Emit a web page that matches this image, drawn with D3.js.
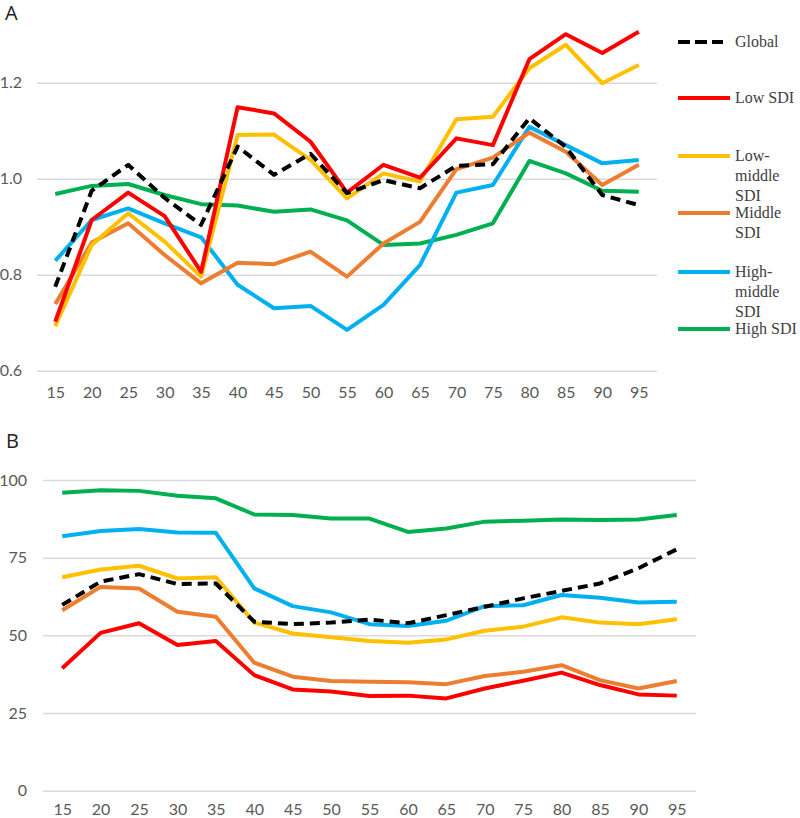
<!DOCTYPE html>
<html><head><meta charset="utf-8">
<script src="https://cdn.jsdelivr.net/npm/d3@7"></script>
<style>body{margin:0;background:#fff}svg{display:block}</style>
</head><body>
<svg id="c" width="800" height="818"></svg>
<script>
const ages = ["15","20","25","30","35","40","45","50","55","60","65","70","75","80","85","90","95"];
const seriesNames = ["Global","Low SDI","Low-middle SDI","Middle SDI","High-middle SDI","High SDI"];
const legendLines = [["Global"],["Low SDI"],["Low-","middle","SDI"],["Middle","SDI"],["High-","middle","SDI"],["High SDI"]];
const ticksA = [0.6,0.8,1.0,1.2];
const ticksB = [0,25,50,75,100];

// Panel A values
const globalA     = [0.775,0.975,1.029,0.960,0.904,1.067,1.008,1.052,0.970,0.997,0.980,1.027,1.030,1.126,1.066,0.966,0.945];
const lowA        = [0.702,0.914,0.971,0.922,0.806,1.149,1.136,1.077,0.971,1.029,1.002,1.084,1.070,1.249,1.301,1.262,1.306];
const lowMiddleA  = [0.693,0.862,0.928,0.869,0.796,1.091,1.092,1.039,0.959,1.011,0.994,1.124,1.129,1.230,1.279,1.199,1.237];
const middleA     = [0.739,0.867,0.907,0.841,0.782,0.825,0.822,0.848,0.796,0.865,0.910,1.020,1.044,1.096,1.056,0.987,1.029];
const highMiddleA = [0.829,0.914,0.938,0.907,0.878,0.779,0.730,0.735,0.685,0.737,0.820,0.971,0.987,1.108,1.070,1.032,1.039];
const highA       = [0.968,0.985,0.989,0.966,0.947,0.944,0.931,0.936,0.913,0.862,0.865,0.883,0.907,1.037,1.011,0.975,0.973];

// Panel B values
const globalB     = [59.8,67.3,69.7,66.5,66.7,54.4,53.6,54.1,55.1,53.9,56.5,59.2,61.9,64.3,66.7,71.6,77.7];
const lowB        = [39.4,50.8,53.9,46.9,48.2,37.2,32.6,31.9,30.5,30.6,29.7,32.9,35.4,38.0,34.0,31.0,30.6];
const lowMiddleB  = [68.7,71.2,72.4,68.3,68.7,54.1,50.6,49.4,48.2,47.6,48.7,51.5,52.8,55.8,54.1,53.6,55.2];
const middleB     = [58.1,65.6,65.1,57.6,56.0,41.2,36.7,35.3,35.1,34.9,34.3,36.9,38.3,40.4,35.6,32.9,35.3];
const highMiddleB = [81.9,83.6,84.2,83.1,83.0,65.1,59.4,57.4,53.6,53.0,54.7,59.4,59.7,63.0,62.1,60.6,60.8];
const highB       = [95.9,96.7,96.5,94.9,94.1,88.9,88.7,87.6,87.6,83.3,84.4,86.6,86.9,87.3,87.1,87.3,88.7];

const colors = ["#000000","#FF0000","#FFC000","#ED7D31","#00B0F0","#00B050"];
const dataA = [globalA,lowA,lowMiddleA,middleA,highMiddleA,highA];
const dataB = [globalB,lowB,lowMiddleB,middleB,highMiddleB,highB];

const svg = d3.select("#c");
const tickFont = "Lato, 'Open Sans', sans-serif";

function panel(data, xr, yDomain, yRange, ticks, fmt, ypad, xpad) {
  const x = d3.scalePoint().domain(ages).range(xr).padding(0.5);
  const y = d3.scaleLinear().domain(yDomain).range(yRange);
  const g = svg.append("g");
  const ya = g.append("g").attr("transform", `translate(${xr[0]},0)`)
    .call(d3.axisLeft(y).tickValues(ticks).tickFormat(fmt).tickSize(-(xr[1]-xr[0])).tickPadding(ypad));
  ya.select(".domain").remove();
  ya.selectAll("line").attr("stroke","#D9D9D9").attr("stroke-width",1.5);
  ya.selectAll("text").attr("fill","#595959").style("font-family",tickFont).style("font-size","16px");
  const xa = g.append("g").attr("transform", `translate(0,${y(yDomain[0])})`)
    .call(d3.axisBottom(x).tickSize(0).tickPadding(xpad));
  xa.select(".domain").remove();
  xa.selectAll("text").attr("fill","#595959").style("font-family",tickFont).style("font-size","16px");
  const line = d3.line().x((d,i)=>x(ages[i])).y(d=>y(d));
  const order = [5,4,3,2,1,0];
  order.forEach(k => {
    g.append("path").datum(data[k]).attr("d", line).attr("fill","none")
      .attr("stroke", colors[k]).attr("stroke-width", 4).attr("stroke-linejoin","round")
      .attr("stroke-dasharray", k===0 ? "10,6" : null);
  });
}

panel(dataA, [37,657], [0.6,1.2], [370.7,82.7], ticksA, d3.format(".1f"), 15, 15.5);
panel(dataB, [43,696], [0,100], [790.7,480], ticksB, d3.format("d"), 16, 12.5);

svg.append("text").attr("x",5).attr("y",20).text("A")
  .style("font-family","'Open Sans', sans-serif").style("font-size","20px").attr("fill","#222");
svg.append("text").attr("x",6).attr("y",448).text("B")
  .style("font-family","'Open Sans', sans-serif").style("font-size","20px").attr("fill","#222");

// Legend
const legY = [42,98,156,213,272,329];
const lg = svg.append("g");
seriesNames.forEach((n,i) => {
  lg.append("line").attr("x1",678).attr("x2", i===0 ? 723 : 730).attr("y1",legY[i]).attr("y2",legY[i])
    .attr("stroke",colors[i]).attr("stroke-width",4)
    .attr("stroke-dasharray", i===0 ? "12,5" : null);
  const t = lg.append("text").attr("x",735).attr("y",legY[i]+5)
    .style("font-family","'Liberation Serif', serif").style("font-size","16px").attr("fill","#404040");
  legendLines[i].forEach((s,j) => {
    t.append("tspan").attr("x",735).attr("dy", j===0 ? 0 : 20).text(s);
  });
});
</script>
</body></html>
